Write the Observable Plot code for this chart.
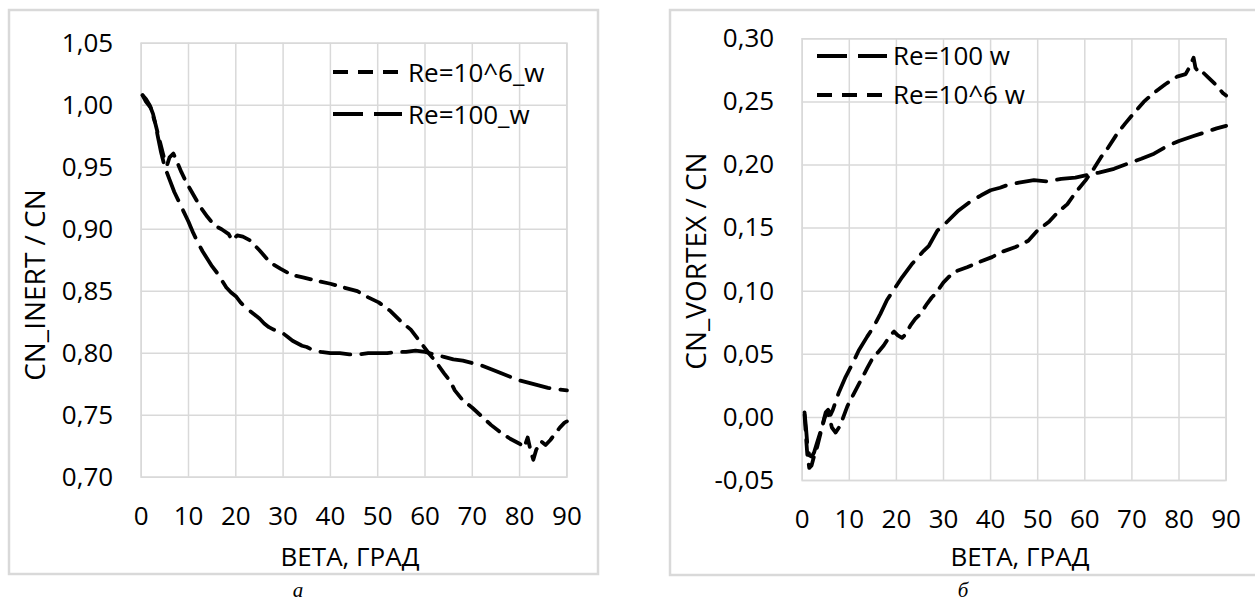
<!DOCTYPE html>
<html><head><meta charset="utf-8">
<script src="https://cdn.jsdelivr.net/npm/d3@7"></script>
<script src="https://cdn.jsdelivr.net/npm/@observablehq/plot@0.6"></script>
<style>
html,body{margin:0;padding:0;background:#fff;}
body{width:1255px;height:601px;overflow:hidden;position:relative;font-family:"Open Sans",sans-serif;}
.plot{position:absolute;top:0;}
#overlay{position:absolute;left:0;top:0;pointer-events:none;}
</style></head>
<body>
<div id="left" class="plot" style="left:0px"></div>
<div id="right" class="plot" style="left:640px"></div>
<svg id="overlay" width="1255" height="601"></svg>
<script>
// ---- tick values ----
const xTicks = [0, 10, 20, 30, 40, 50, 60, 70, 80, 90];
const yTicksA = [0.70, 0.75, 0.80, 0.85, 0.90, 0.95, 1.00, 1.05];
const yTicksB = [-0.05, 0.00, 0.05, 0.10, 0.15, 0.20, 0.25, 0.30];

// ---- panel a: CN_INERT / CN ----
const betaA6 = [0.3,1,2,3,4,5,5.5,6,6.8,7.5,8.5,9.5,11,12.5,14,15.5,17,18.5,19.2,20.3,21.5,23,25,27.3,29.5,31.9,34.4,37.5,40,42.8,45.7,48,50.2,52.7,54.8,57,59,60.8,62.3,64,65.4,66.3,68,70,72,74,76,78,80,81,81.7,82.3,82.9,83.5,84.5,85.5,86.5,87.5,88.5,89.5,90];
const cnA6   = [1.008,1.003,0.998,0.985,0.970,0.955,0.952,0.958,0.961,0.955,0.946,0.938,0.928,0.918,0.910,0.903,0.900,0.896,0.891,0.895,0.894,0.891,0.883,0.873,0.868,0.863,0.861,0.858,0.856,0.853,0.850,0.845,0.841,0.834,0.826,0.819,0.809,0.800,0.793,0.784,0.777,0.770,0.762,0.756,0.749,0.742,0.736,0.731,0.727,0.724,0.732,0.722,0.714,0.722,0.729,0.726,0.730,0.735,0.740,0.744,0.745];
const betaA100 = [0.3,1,1.8,2.5,3,3.5,4.2,5,6,7,8,9,10,11,12,13,14,15,16,17,18,19,20,21,22,23,24,25,26,27,28,29,30,31,32,33,34,35,36,37,38,40,42,44,46,48,50,52,54,56,58,60,62,64,66,68,70,72,74,76,78,80,82,84,86,88,90];
const cnA100   = [1.008,1.005,1.000,0.993,0.985,0.975,0.962,0.950,0.940,0.930,0.922,0.914,0.906,0.897,0.889,0.882,0.876,0.870,0.865,0.859,0.853,0.849,0.846,0.841,0.837,0.834,0.831,0.828,0.824,0.821,0.819,0.818,0.816,0.813,0.810,0.808,0.806,0.805,0.803,0.802,0.801,0.800,0.800,0.799,0.799,0.800,0.800,0.800,0.801,0.801,0.802,0.801,0.799,0.797,0.795,0.794,0.792,0.790,0.787,0.784,0.781,0.778,0.776,0.774,0.772,0.771,0.770];

// ---- panel б: CN_VORTEX / CN ----
const betaB6 = [0.5,0.8,1.1,1.5,2,2.5,3.2,4,4.8,5.3,5.8,6.3,7.1,7.8,8.5,9.6,11,12.4,13.8,15.1,16.2,17.3,18.7,19.5,20.3,21.2,22,23,24,25.1,26.5,27.5,28.3,30,32.1,35,37.5,40.3,42.3,45.3,48,49.9,52.4,54.1,56.3,58,60.2,61.9,63.4,65,66.9,68.6,70.4,72.5,74.6,77.1,79.6,81.4,82.3,83.1,83.5,84.5,85.2,86.3,88,89.3,90];
const cnB6   = [0.002,-0.015,-0.030,-0.040,-0.038,-0.031,-0.023,-0.011,0.000,0.004,0.000,-0.008,-0.012,-0.008,-0.002,0.009,0.019,0.029,0.039,0.048,0.052,0.057,0.065,0.068,0.065,0.063,0.066,0.073,0.078,0.082,0.090,0.095,0.098,0.107,0.115,0.119,0.123,0.127,0.131,0.135,0.140,0.148,0.155,0.162,0.169,0.178,0.188,0.197,0.206,0.214,0.225,0.233,0.241,0.250,0.257,0.264,0.270,0.272,0.278,0.285,0.277,0.272,0.273,0.269,0.263,0.257,0.255];
const betaB100 = [0.5,0.8,1.1,1.5,2,2.5,3,3.5,4,4.5,5,5.5,6,6.5,7.8,9.2,10.6,12,13.8,15.2,16.6,18,19.6,21.2,23.4,25.8,26.9,28.7,30.5,33.2,35.7,38,40,42,43.5,46,49.2,52,55,58,60.5,63,66.2,69,72,74.7,77.5,80,83.1,85.6,88,90];
const cnB100   = [0.004,-0.008,-0.022,-0.030,-0.031,-0.028,-0.022,-0.016,-0.010,-0.003,0.004,0.006,0.002,0.006,0.020,0.032,0.042,0.053,0.064,0.072,0.082,0.093,0.102,0.111,0.122,0.132,0.136,0.148,0.154,0.164,0.171,0.176,0.180,0.182,0.184,0.186,0.188,0.187,0.189,0.190,0.192,0.194,0.197,0.201,0.205,0.209,0.215,0.219,0.223,0.226,0.229,0.231];

const legendA = ["Re=10^6_w", "Re=100_w"];
const legendB = ["Re=100 w", "Re=10^6 w"];
const axisTitleX = "ВЕТА, ГРАД";
const titleYA = "CN_INERT / CN";
const titleYB = "CN_VORTEX / CN";
const captions = ["а", "б"];

const SHORT = "15,10", LONG = "30,11", GRID = "#d9d9d9", SW = 3.8;
const fmt = d => d.toFixed(2).replace(".", ",");
const toRows = (xs, ys) => xs.map((x, i) => ({x, y: ys[i]}));

function panel({width, mLeft, mRight, mTop, mBottom, yDomain, yTicks, s6, s100}) {
  return Plot.plot({
    width, height: 601,
    marginLeft: mLeft, marginRight: mRight, marginTop: mTop, marginBottom: mBottom,
    style: {fontFamily: "'Open Sans', sans-serif", fontSize: "26px", background: "transparent", color: "#000", overflow: "visible"},
    x: {domain: [0, 90], ticks: xTicks, tickSize: 0, tickPadding: 29, label: null},
    y: {domain: yDomain, ticks: yTicks, tickSize: 0, tickPadding: 28, tickFormat: fmt, label: null},
    marks: [
      Plot.ruleX(xTicks, {stroke: GRID, strokeWidth: 1.5}),
      Plot.ruleY(yTicks, {stroke: GRID, strokeWidth: 1.5}),
      Plot.frame({stroke: GRID, strokeWidth: 1.5}),
      Plot.line(s100, {x: "x", y: "y", stroke: "#000", strokeWidth: SW, strokeDasharray: LONG}),
      Plot.line(s6, {x: "x", y: "y", stroke: "#000", strokeWidth: SW, strokeDasharray: SHORT})
    ]
  });
}

document.getElementById("left").appendChild(panel({
  width: 600, mLeft: 140.7, mRight: 33.6, mTop: 42.7, mBottom: 124.3,
  yDomain: [0.70, 1.05], yTicks: yTicksA,
  s6: toRows(betaA6, cnA6), s100: toRows(betaA100, cnA100)
}));
document.getElementById("right").appendChild(panel({
  width: 615, mLeft: 161.7, mRight: 29.4, mTop: 38.3, mBottom: 121,
  yDomain: [-0.05, 0.30], yTicks: yTicksB,
  s6: toRows(betaB6, cnB6), s100: toRows(betaB100, cnB100)
}));

// ---- overlay: panel borders, titles, legends, captions ----
const ov = d3.select("#overlay");
ov.append("rect").attr("x", 9).attr("y", 10).attr("width", 589).attr("height", 564)
  .attr("fill", "none").attr("stroke", GRID).attr("stroke-width", 2.5);
ov.append("rect").attr("x", 670).attr("y", 10).attr("width", 600).attr("height", 565)
  .attr("fill", "none").attr("stroke", GRID).attr("stroke-width", 2.5);

const txt = (x, y, s, size, extra = {}) => {
  const t = ov.append("text").attr("x", x).attr("y", y).text(s)
    .attr("font-family", "'Open Sans', sans-serif").attr("font-size", size).attr("fill", "#000");
  for (const k in extra) t.attr(k, extra[k]);
  return t;
};
// x titles
txt(350, 566, axisTitleX, 26, {"text-anchor": "middle"});
txt(1020, 566, axisTitleX, 26, {"text-anchor": "middle"});
// y titles
txt(0, 0, titleYA, 28, {"text-anchor": "middle", transform: "translate(45,285) rotate(-90)"});
txt(0, 0, titleYB, 28, {"text-anchor": "middle", transform: "translate(706,261) rotate(-90)"});

// legends
const legRow = (x0, x1, y, dash, label, tx, ty) => {
  ov.append("line").attr("x1", x0).attr("x2", x1).attr("y1", y).attr("y2", y)
    .attr("stroke", "#000").attr("stroke-width", SW).attr("stroke-dasharray", dash);
  txt(tx, ty, label, 26);
};
legRow(333, 402, 72, SHORT, legendA[0], 408, 82);
legRow(333, 402, 114, LONG, legendA[1], 408, 124);
legRow(817, 887, 56, LONG, legendB[0], 893, 65);
legRow(817, 887, 95, SHORT, legendB[1], 893, 104);

// captions
ov.append("text").attr("x", 298).attr("y", 597).attr("text-anchor", "middle")
  .attr("font-family", "'Liberation Serif', serif").attr("font-style", "italic").attr("font-size", 21).text(captions[0]);
ov.append("text").attr("x", 963).attr("y", 597).attr("text-anchor", "middle")
  .attr("font-family", "'Liberation Serif', serif").attr("font-style", "italic").attr("font-size", 21).text(captions[1]);
</script>
</body></html>
